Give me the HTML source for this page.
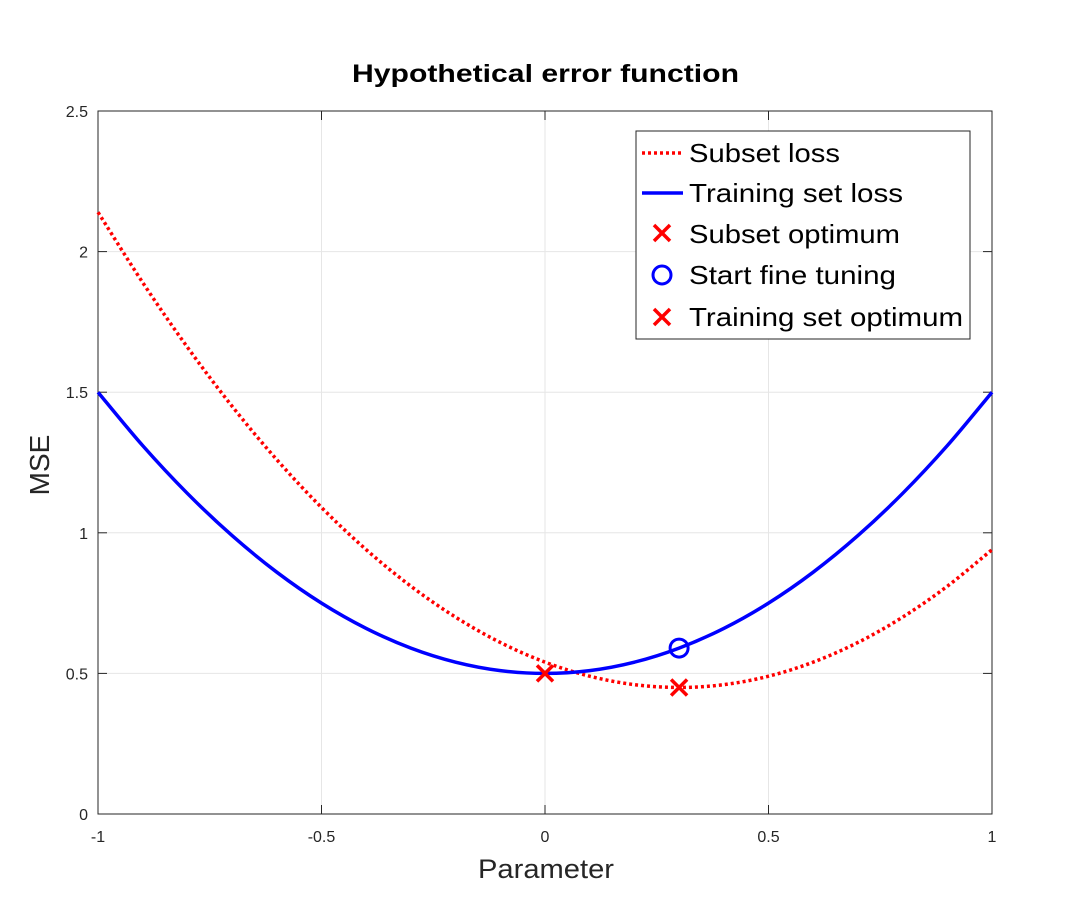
<!DOCTYPE html>
<html><head><meta charset="utf-8"><style>
body{margin:0;background:#fff;}
svg{display:block;font-family:"Liberation Sans",sans-serif;}
</style></head><body>
<svg id="chart" width="1085" height="907" viewBox="0 0 1085 907">
<rect width="1085" height="907" fill="#fff"/>
<g id="grid"></g>
<g id="ticks"></g>
<rect x="98" y="111" width="894" height="703" fill="none" stroke="#262626" stroke-width="1"/>
<g id="series"></g>
<text x="352" y="82" textLength="387" lengthAdjust="spacingAndGlyphs" font-size="25" font-weight="bold" fill="#000">Hypothetical error function</text>
<text x="478" y="878" textLength="136" lengthAdjust="spacingAndGlyphs" font-size="27" fill="#262626">Parameter</text>
<text transform="translate(49,465) rotate(-90)" text-anchor="middle" font-size="28" fill="#262626">MSE</text>
<g>
<rect x="636" y="131" width="334" height="208" fill="#fff" stroke="#262626" stroke-width="1"/>
<g><line x1="642" y1="153" x2="683" y2="153" stroke="#f00" stroke-width="3.5" stroke-dasharray="3,3"/><text x="689" y="162" textLength="151" lengthAdjust="spacingAndGlyphs" font-size="26" fill="#000">Subset loss</text></g>
<g><line x1="642" y1="193" x2="683" y2="193" stroke="#00f" stroke-width="3.5"/><text x="689" y="202" textLength="214" lengthAdjust="spacingAndGlyphs" font-size="26" fill="#000">Training set loss</text></g>
<g><path d="M654,225 L670,241 M670,225 L654,241" stroke="#f00" stroke-width="3.5"/><text x="689" y="243" textLength="211" lengthAdjust="spacingAndGlyphs" font-size="26" fill="#000">Subset optimum</text></g>
<g><circle cx="662" cy="275" r="9" fill="none" stroke="#00f" stroke-width="3"/><text x="689" y="284" textLength="207" lengthAdjust="spacingAndGlyphs" font-size="26" fill="#000">Start fine tuning</text></g>
<g><path d="M654,309 L670,325 M670,309 L654,325" stroke="#f00" stroke-width="3.5"/><text x="689" y="326" textLength="274" lengthAdjust="spacingAndGlyphs" font-size="26" fill="#000">Training set optimum</text></g>
</g>
</svg>
<script>
const xs=[-1,-0.9,-0.8,-0.7,-0.6,-0.5,-0.4,-0.3,-0.2,-0.1,0,0.1,0.2,0.3,0.4,0.5,0.6,0.7,0.8,0.9,1];
const trainingLoss=[1.5,1.31,1.14,0.99,0.86,0.75,0.66,0.59,0.54,0.51,0.5,0.51,0.54,0.59,0.66,0.75,0.86,0.99,1.14,1.31,1.5];
const subsetLoss=[2.14,1.89,1.66,1.45,1.26,1.09,0.94,0.81,0.70,0.61,0.54,0.49,0.46,0.45,0.46,0.49,0.54,0.61,0.70,0.81,0.94];
const xTicks=[-1,-0.5,0,0.5,1];
const xTickLabels=["-1","-0.5","0","0.5","1"];
const yTicks=[0,0.5,1,1.5,2,2.5];
const yTickLabels=["0","0.5","1","1.5","2","2.5"];
const subsetOptimum=[0,0.5];
const trainingOptimum=[0.3,0.45];
const startPoint=[0.3,0.59];
const X=v=>98+(v+1)/2*894, Y=v=>814-v/2.5*703;
const NS="http://www.w3.org/2000/svg";
function mk(tag,attrs,parent){const e=document.createElementNS(NS,tag);for(const k in attrs)e.setAttribute(k,attrs[k]);parent.appendChild(e);return e;}
const grid=document.getElementById('grid'),ticks=document.getElementById('ticks'),ser=document.getElementById('series');
xTicks.forEach((t,i)=>{
 const g=mk('line',{x1:X(t),x2:X(t),y1:111,y2:814,stroke:'#e6e6e6','stroke-width':1},grid);
 
 
 mk('line',{x1:X(t),x2:X(t),y1:814,y2:805,stroke:'#262626'},ticks);
 mk('line',{x1:X(t),x2:X(t),y1:111,y2:120,stroke:'#262626'},ticks);
 const tx=mk('text',{x:X(t),y:842,'text-anchor':'middle','font-size':16,fill:'#262626'},ticks);
 tx.textContent=xTickLabels[i];
 
 
});
yTicks.forEach((t,i)=>{
 const g=mk('line',{x1:98,x2:992,y1:Y(t),y2:Y(t),stroke:'#e6e6e6','stroke-width':1},grid);
 
 
 mk('line',{x1:98,x2:107,y1:Y(t),y2:Y(t),stroke:'#262626'},ticks);
 mk('line',{x1:992,x2:983,y1:Y(t),y2:Y(t),stroke:'#262626'},ticks);
 const tx=mk('text',{x:88,y:Y(t)+6,'text-anchor':'end','font-size':16,fill:'#262626'},ticks);
 tx.textContent=yTickLabels[i];
 
 
});
function smooth(ys){
 const p=xs.map((x,i)=>[X(x),Y(ys[i])]);let d=`M${p[0][0]},${p[0][1]}`;
 for(let i=0;i<p.length-1;i++){const a=p[i-1]||p[i],b=p[i],c=p[i+1],e=p[i+2]||c;
  d+=` C${b[0]+(c[0]-a[0])/6},${b[1]+(c[1]-a[1])/6} ${c[0]-(e[0]-b[0])/6},${c[1]-(e[1]-b[1])/6} ${c[0]},${c[1]}`;}
 return d;}
const r=mk('path',{d:smooth(subsetLoss),fill:'none',stroke:'#f00','stroke-width':3.5,'stroke-dasharray':'3,3'},ser);


const b=mk('path',{d:smooth(trainingLoss),fill:'none',stroke:'#00f','stroke-width':3.5},ser);


function cross(pt,name){const x=X(pt[0]),y=Y(pt[1]);
 const c=mk('path',{d:`M${x-8},${y-8} L${x+8},${y+8} M${x+8},${y-8} L${x-8},${y+8}`,stroke:'#f00','stroke-width':3.5},ser);
 
 }
cross(subsetOptimum,'subset-optimum-marker');
cross(trainingOptimum,'training-optimum-marker');
const ci=mk('circle',{cx:X(startPoint[0]),cy:Y(startPoint[1]),r:9,fill:'none',stroke:'#00f','stroke-width':3},ser);


</script>
</body></html>
